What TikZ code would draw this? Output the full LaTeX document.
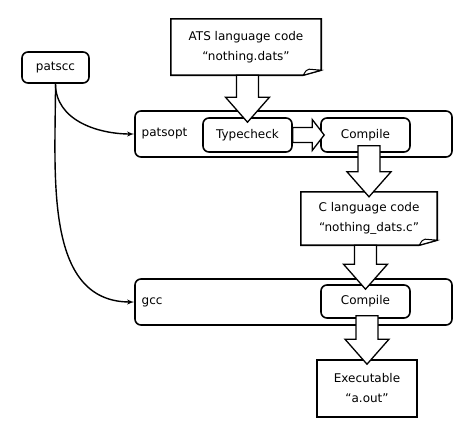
\documentclass[tikz,border=0pt]{standalone}
\usepackage{fontspec}
\setsansfont{DejaVu Sans}
\usetikzlibrary{arrows,calc}
\newcommand{\diagfont}{\sffamily\fontsize{12}{20}\selectfont}
\tikzset{
  procbox/.style = {draw, rounded corners=6pt, line width=1.6pt, font=\diagfont},
  stagebox/.style = {procbox, minimum width=89pt, minimum height=34pt},
  toolbox/.style = {procbox, minimum width=317pt, minimum height=46pt},
  filebox/.style = {align=center, inner sep=0pt, font=\diagfont},
  toollabel/.style = {anchor=west, font=\diagfont},
  fatarrow/.style = {draw, fill=white, line width=1.3pt, line join=miter}
}
% page outline with a curled corner
\newcommand{\docoutline}[1]{%
  \draw[line width=1.6pt] (#1.north west) -- (#1.north east)
    -- ([yshift=5pt]#1.south east) -- ([xshift=-18pt]#1.south east)
    -- (#1.south west) -- cycle;
  \draw[line width=1pt, fill=white] ([yshift=5pt]#1.south east)
    -- ([xshift=-12pt,yshift=6pt]#1.south east)
    .. controls ([xshift=-15pt,yshift=5pt]#1.south east) .. ([xshift=-18pt]#1.south east)
    -- cycle;}
% block arrows
\newcommand{\fatdown}[3][0pt]{%
  \draw[fatarrow] let \p1=(#2.south), \p2=(#3.north) in
    (\x2-11pt,\y1+#1) -- (\x2-11pt,\y2+20pt) -- (\x2-22pt,\y2+20pt)
    -- (\x2,\y2-5pt) -- (\x2+22pt,\y2+20pt) -- (\x2+11pt,\y2+20pt)
    -- (\x2+11pt,\y1+#1) -- cycle;}
\newcommand{\fatright}[2]{%
  \draw[fatarrow] let \p1=(#1.east), \p2=(#2.west) in
    (\x1,\y2+7.5pt) -- (\x2-8pt,\y2+7.5pt) -- (\x2-8pt,\y2+15.5pt)
    -- (\x2+4pt,\y2) -- (\x2-8pt,\y2-15.5pt) -- (\x2-8pt,\y2-7.5pt)
    -- (\x1,\y2-7.5pt) -- cycle;}
\begin{document}
\begin{tikzpicture}[x=1pt,y=-1pt,>=latex']
  \useasboundingbox (0,0) rectangle (474,437);

  % tools
  \node [procbox, minimum width=67pt, minimum height=31pt] (patscc) at (55.5,67.5) {patscc};
  \node [toolbox] (patsopt) at (293.5,134) {};
  \node [toollabel] (patsoptlbl) at ([xshift=4pt]patsopt.west) {patsopt};
  \node [toolbox] (gcc) at (293.5,302) {};
  \node [toollabel] (gcclbl) at ([xshift=4pt]gcc.west) {gcc};

  % stages
  \node [stagebox] (typecheck) at (247.5,135) {Typecheck};
  \node [stagebox] (compileA) at (365.5,135) {Compile};
  \node [stagebox, minimum height=33pt] (compileB) at (365.5,301.5) {Compile};

  % files
  \node [filebox, minimum width=150pt, minimum height=56pt] (ats) at (246,47)
    {ATS language code\\“nothing.dats”};
  \docoutline{ats}
  \node [filebox, minimum width=136pt, minimum height=53pt] (cfile) at (369,218.5)
    {C language code\\“nothing\_dats.c”};
  \docoutline{cfile}
  \node [filebox, draw, line width=1.6pt, minimum width=100pt, minimum height=57pt]
    (exe) at (367,388.5) {Executable\\“a.out”};

  % driver calls
  \draw [->, line width=1.4pt] (patscc.south) to[out=-90, in=180] (patsopt.west);
  \draw [->, line width=1.4pt] (patscc.south) to[out=-90, in=180] (gcc.west);

  % flow
  \fatdown{ats}{typecheck}
  \fatright{typecheck}{compileA}
  \fatdown[7pt]{compileA}{cfile}
  \fatdown{cfile}{compileB}
  \fatdown[3pt]{compileB}{exe}
\end{tikzpicture}
\end{document}
